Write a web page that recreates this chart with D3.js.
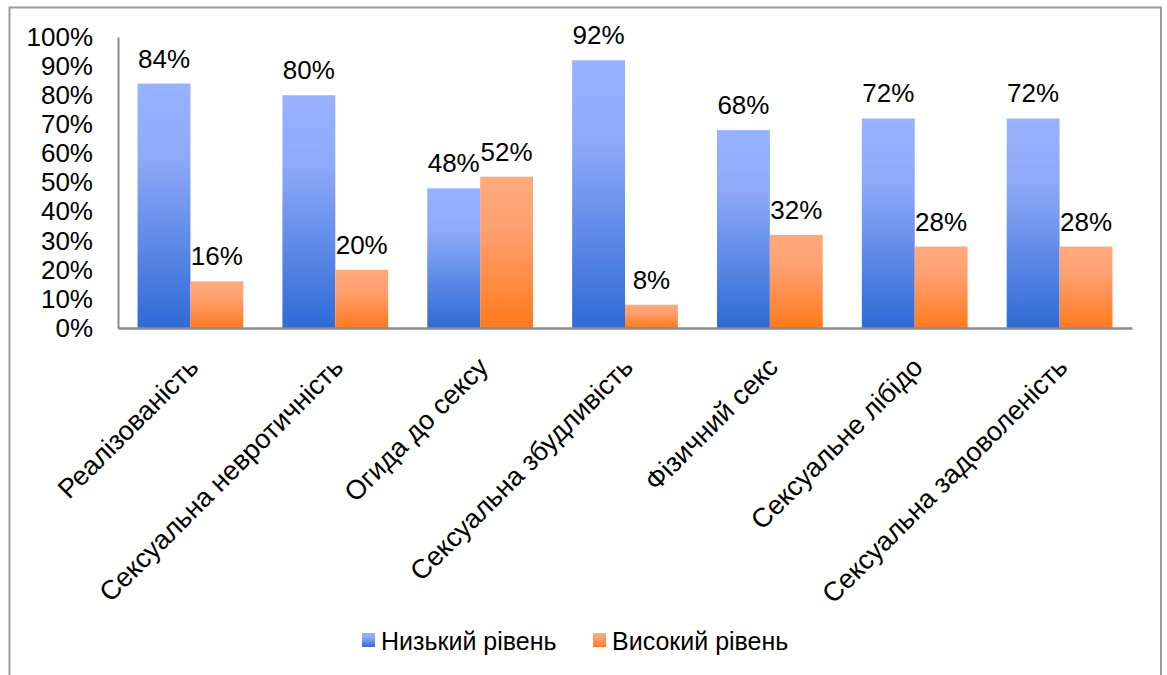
<!DOCTYPE html>
<html><head><meta charset="utf-8">
<script src="https://cdn.jsdelivr.net/npm/d3@7"></script>
<style>body{margin:0;background:#fff}svg{display:block}text{font-family:"Liberation Sans",Arial,sans-serif;fill:#000}</style>
</head><body>
<script>
const categories = ["Реалізованість","Сексуальна невротичність","Огида до сексу","Сексуальна збудливість","Фізичний секс","Сексуальне лібідо","Сексуальна задоволеність"];
const seriesNames = ["Низький рівень","Високий рівень"];
const lowValues = [84,80,48,92,68,72,72];
const highValues = [16,20,52,8,32,28,28];
const yTicks = [0,10,20,30,40,50,60,70,80,90,100];

(function(){
const W=1167,H=675;
const svg=d3.select("body").append("svg").attr("width",W).attr("height",H);
const defs=svg.append("defs");
function grad(id,stops){
  const g=defs.append("linearGradient").attr("id",id).attr("x1",0).attr("y1",0).attr("x2",0).attr("y2",1);
  stops.forEach(s=>g.append("stop").attr("offset",s[0]).attr("stop-color",s[1]));
}
grad("gBlue",[[0,"#97b3ff"],[0.3,"#8eaaf8"],[1,"#2f6ad6"]]);
grad("gOrange",[[0,"#ffab7c"],[0.35,"#ffa070"],[1,"#ff7a1c"]]);
const fills=["url(#gBlue)","url(#gOrange)"];

svg.append("rect").attr("x",9.5).attr("y",7.5).attr("width",1151.5).attr("height",720)
  .attr("fill","none").attr("stroke","#9a9a9a").attr("stroke-width",2);

const pl=118,pr=1132,pt=37,pb=328;
const x0=d3.scaleBand().domain(categories).range([pl,pr]).paddingInner(0.27).paddingOuter(0.135);
const x1=d3.scaleBand().domain(seriesNames).range([0,x0.bandwidth()]);
const y=d3.scaleLinear().domain([0,100]).range([pb,pt]);

const data=categories.map((c,i)=>({c,vals:[lowValues[i],highValues[i]]}));
const groups=svg.append("g").selectAll("g").data(data).join("g").attr("transform",d=>`translate(${x0(d.c)},0)`);
groups.selectAll("rect").data(d=>d.vals.map((v,j)=>({v,j}))).join("rect")
  .attr("x",d=>x1(seriesNames[d.j])).attr("width",x1.bandwidth())
  .attr("y",d=>y(d.v)).attr("height",d=>y(0)-y(d.v)).attr("fill",d=>fills[d.j]);
groups.selectAll("text").data(d=>d.vals.map((v,j)=>({v,j}))).join("text")
  .attr("x",d=>x1(seriesNames[d.j])+x1.bandwidth()/2).attr("y",d=>y(d.v)-16)
  .attr("text-anchor","middle").style("font-size","26px").text(d=>d.v+"%");

const ya=svg.append("g").attr("transform",`translate(${pl},0)`)
  .call(d3.axisLeft(y).tickValues(yTicks).tickFormat(d=>d+"%").tickSize(0).tickPadding(25));
ya.select(".domain").attr("stroke","#8c8c8c").attr("stroke-width",2);
ya.selectAll("text").style("font-size","26px").style("font-family","'Liberation Sans',Arial,sans-serif").attr("fill","#000");

const xa=svg.append("g").attr("transform",`translate(0,${pb})`)
  .call(d3.axisBottom(x0).tickSize(0).tickFormat(""));
xa.select(".domain").attr("stroke","#8c8c8c").attr("stroke-width",2.5);
svg.append("g").selectAll("text").data(categories).join("text")
  .attr("transform",d=>`translate(${x0(d)+x0.bandwidth()/2-4},${pb+27}) rotate(-45)`)
  .attr("text-anchor","end").attr("dy","0.72em").style("font-size","27px").text(d=>d);

const lg=svg.append("g");
const lx=[362,593];
seriesNames.forEach((s,i)=>{
  lg.append("rect").attr("x",lx[i]).attr("y",633).attr("width",13).attr("height",14).attr("fill",fills[i]);
  lg.append("text").attr("x",lx[i]+19).attr("y",650).style("font-size","25px").text(s);
});
})();
</script>
</body></html>
